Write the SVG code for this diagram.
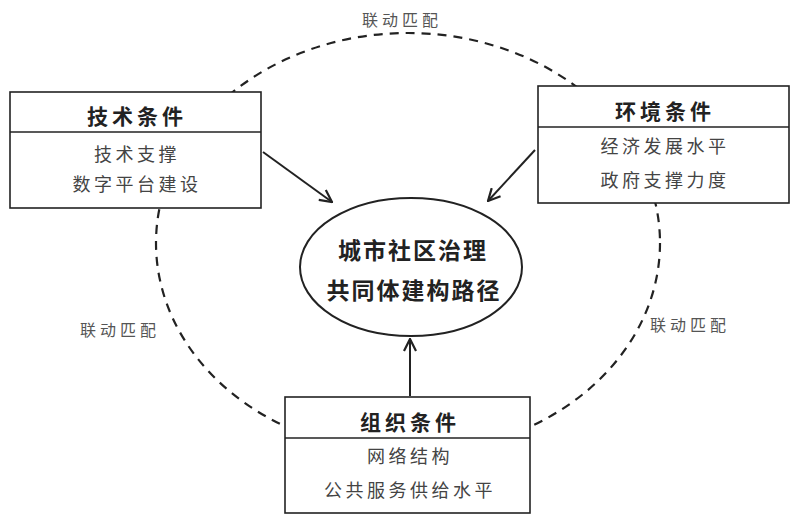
<svg xmlns="http://www.w3.org/2000/svg" width="795" height="516" viewBox="0 0 795 516">
<defs>
<style>
text{font-family:"Noto Sans CJK SC","Noto Sans CJK JP",sans-serif;text-anchor:middle}
.box{fill:#fff;stroke:#222;stroke-width:1.6}
.div{stroke:#222;stroke-width:1.4}
.title{font-size:21px;font-weight:bold;fill:#222;letter-spacing:4px}
.body{font-size:18px;fill:#444;letter-spacing:3.5px}
.lbl{font-size:16px;fill:#555;letter-spacing:4px}
.core{font-size:23px;font-weight:bold;fill:#222;letter-spacing:2px}
.conn{stroke:#222;stroke-width:2;fill:none}
</style>
<marker id="ah" viewBox="0 0 14 14" refX="13" refY="7" markerWidth="14" markerHeight="14" orient="auto" markerUnits="userSpaceOnUse">
<path d="M1,1 L13,7 L1,13" fill="none" stroke="#222" stroke-width="2.2" stroke-linejoin="miter"/>
</marker>
</defs>
<rect width="795" height="516" fill="#fff"/>
<g id="connectors">
<ellipse cx="408" cy="243" rx="252" ry="210" fill="none" stroke="#222" stroke-width="2.2" stroke-dasharray="9,7"/>
<line class="conn" x1="263" y1="152" x2="332" y2="202" marker-end="url(#ah)"/>
<line class="conn" x1="535" y1="150" x2="488" y2="201" marker-end="url(#ah)"/>
<line class="conn" x1="410" y1="396" x2="410" y2="339" marker-end="url(#ah)"/>
</g>
<g id="labels">
<text class="lbl" x="402" y="26">联动匹配</text>
<text class="lbl" x="120" y="336">联动匹配</text>
<text class="lbl" x="690" y="331">联动匹配</text>
</g>
<g id="core">
<ellipse cx="411" cy="267" rx="111" ry="69" fill="#fff" stroke="#222" stroke-width="2"/>
<text class="core" x="413" y="259">城市社区治理</text>
<text class="core" x="414" y="299">共同体建构路径</text>
</g>
<g id="tech">
<rect class="box" x="10" y="92" width="251" height="116"/>
<line class="div" x1="10" y1="132" x2="261" y2="132"/>
<text class="title" x="137" y="124">技术条件</text>
<text class="body" x="137" y="161">技术支撑</text>
<text class="body" x="137" y="191">数字平台建设</text>
</g>
<g id="env">
<rect class="box" x="538" y="86" width="251" height="117"/>
<line class="div" x1="538" y1="127" x2="789" y2="127"/>
<text class="title" x="665" y="119">环境条件</text>
<text class="body" x="665" y="153">经济发展水平</text>
<text class="body" x="665" y="187">政府支撑力度</text>
</g>
<g id="org">
<rect class="box" x="285" y="397" width="245" height="116"/>
<line class="div" x1="285" y1="438" x2="530" y2="438"/>
<text class="title" x="410" y="430">组织条件</text>
<text class="body" x="410" y="463">网络结构</text>
<text class="body" x="410" y="497">公共服务供给水平</text>
</g>
</svg>
